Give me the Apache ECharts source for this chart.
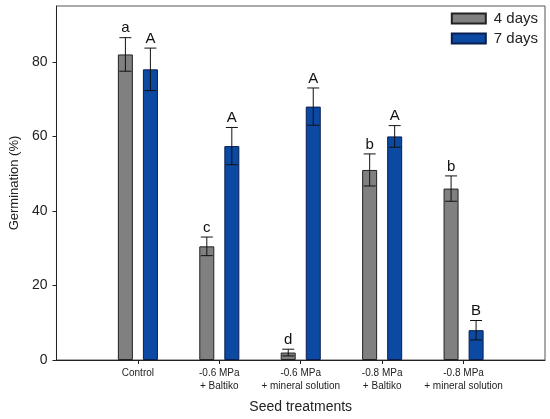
<!DOCTYPE html>
<html>
<head>
<meta charset="utf-8">
<script src="https://cdn.jsdelivr.net/npm/echarts@6/dist/echarts.min.js"></script>
<style>
  html, body { margin: 0; padding: 0; background: #fff; }
  #chart { width: 550px; height: 419px; }
</style>
</head>
<body>
<div id="chart"></div>
<script>
// treatments on the x axis
var categories = ['Control', '-0.6 MPa\n+ Baltiko', '-0.6 MPa\n+ mineral solution', '-0.8 MPa\n+ Baltiko', '-0.8 MPa\n+ mineral solution'];

// germination (%) and error (+/-) for each day
var days4 = [82, 30.5, 2, 51, 46];
var days4Err = [4.5, 2.5, 0.9, 4.3, 3.4];
var days4Letters = ['a', 'c', 'd', 'b', 'b'];

var days7 = [78, 57.4, 68, 60, 8];
var days7Err = [5.7, 5, 5, 2.9, 2.6];
var days7Letters = ['A', 'A', 'A', 'A', 'B'];

var yTicks = [0, 20, 40, 60, 80];

// pad the axis with an empty slot at each end so the groups sit where they do in the figure
var axisData = [''].concat(categories, ['']);
function padded(arr) {
    return [null].concat(arr, [null]);
}

var fontFamily = 'Liberation Sans, Arial, sans-serif';

function errorSeries(name, values, errs, letters, offset) {
    var data = [];
    values.forEach(function(v, i) {
        data.push([i + 1, v, errs[i], letters[i]]);
    });
    return {
        type: 'custom',
        name: name + ' err',
        z: 5,
        data: data,
        renderItem: function(params, api) {
            var idx = api.value(0);
            var v = api.value(1);
            var e = api.value(2);
            var top = api.coord([idx, v + e]);
            var bot = api.coord([idx, v - e]);
            var x = top[0] + offset;
            var cap = 6;
            var style = { stroke: '#111', lineWidth: 1 };
            return {
                type: 'group',
                children: [
                    { type: 'line', shape: { x1: x, y1: top[1], x2: x, y2: bot[1] }, style: style },
                    { type: 'line', shape: { x1: x - cap, y1: top[1], x2: x + cap, y2: top[1] }, style: style },
                    { type: 'line', shape: { x1: x - cap, y1: bot[1], x2: x + cap, y2: bot[1] }, style: style },
                    {
                        type: 'text',
                        style: {
                            text: letters[idx - 1],
                            x: x,
                            y: top[1] - 2,
                            align: 'center',
                            verticalAlign: 'bottom',
                            fill: '#111',
                            font: '15px ' + fontFamily
                        }
                    }
                ]
            };
        }
    };
}

var myChart = echarts.init(document.getElementById('chart'));

var option = {
    animation: false,
    textStyle: { fontFamily: fontFamily },
    grid: {
        left: 51,
        right: 5,
        top: 6,
        bottom: 59,
        show: true,
        borderColor: '#555',
        borderWidth: 1
    },
    legend: {
        orient: 'vertical',
        right: 7,
        top: 6,
        itemWidth: 34,
        itemHeight: 10,
        itemGap: 5,
        icon: 'rect',
        textStyle: { fontSize: 15, color: '#222', fontFamily: fontFamily, padding: [0, 0, 0, 3] },
        data: ['4 days', '7 days']
    },
    xAxis: {
        type: 'category',
        data: axisData,
        boundaryGap: false,
        name: 'Seed treatments',
        nameLocation: 'middle',
        nameGap: 40,
        nameTextStyle: { fontSize: 14, color: '#222' },
        axisLine: { lineStyle: { color: '#222' } },
        axisTick: {
            length: 4,
            lineStyle: { color: '#222' },
            interval: function(i) { return i > 0 && i < axisData.length - 1; }
        },
        axisLabel: {
            interval: 0,
            fontSize: 10,
            color: '#222',
            lineHeight: 13,
            margin: 7
        },
        splitLine: { show: false }
    },
    yAxis: {
        type: 'value',
        min: 0,
        max: 95,
        interval: 20,
        name: 'Germination (%)',
        nameLocation: 'middle',
        nameGap: 31,
        nameTextStyle: { fontSize: 13, color: '#222' },
        axisLine: { show: true, lineStyle: { color: '#222' } },
        axisTick: { show: true, length: 4, lineStyle: { color: '#222' } },
        axisLabel: {
            fontSize: 14,
            color: '#222',
            margin: 9,
            showMaxLabel: false,
            formatter: function(v) { return yTicks.indexOf(v) >= 0 ? v : ''; }
        },
        splitLine: { show: false }
    },
    series: [
        {
            name: '4 days',
            type: 'bar',
            data: padded(days4),
            barWidth: 15,
            barGap: '67%',
            itemStyle: { color: '#808080', borderColor: '#222', borderWidth: 1 }
        },
        {
            name: '7 days',
            type: 'bar',
            data: padded(days7),
            barWidth: 15,
            itemStyle: { color: '#0b49a3', borderColor: '#0a1e50', borderWidth: 1 }
        },
        errorSeries('4 days', days4, days4Err, days4Letters, -12.5),
        errorSeries('7 days', days7, days7Err, days7Letters, 12.5)
    ]
};

myChart.setOption(option);
</script>
</body>
</html>
